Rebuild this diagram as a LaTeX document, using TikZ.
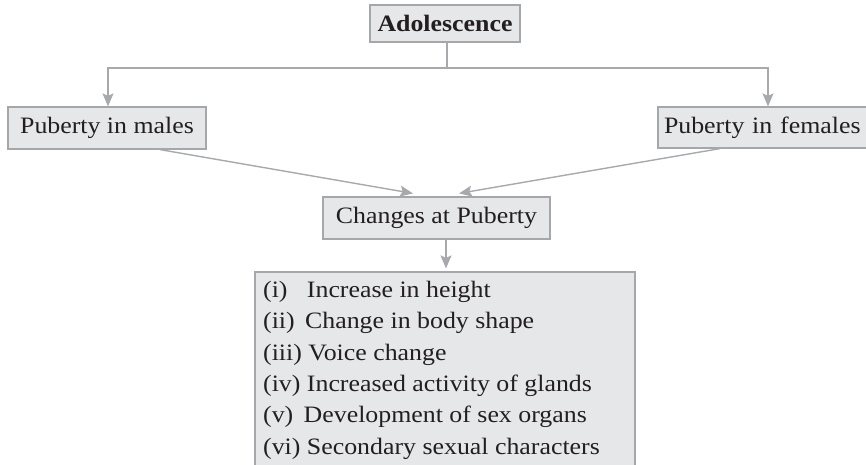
\documentclass[tikz,border=0pt]{standalone}
\usepackage{fontspec}
\setmainfont{Liberation Serif}[FakeStretch=1.1]
\usetikzlibrary{arrows.meta}
\definecolor{boxfill}{RGB}{230,231,232}
\definecolor{boxline}{RGB}{165,167,170}
\definecolor{arrcol}{RGB}{167,169,172}
\definecolor{txt}{RGB}{35,31,32}
\tikzset{
  box/.style={draw=boxline, fill=boxfill, line width=1.2pt, inner sep=0pt, text=txt,
    font=\fontsize{23.5}{28}\selectfont},
  arr/.style={draw=arrcol, line width=1.4pt, -{Stealth[length=13pt,width=11pt,inset=2.5pt]}},
  ln/.style={draw=arrcol, line width=1.4pt},
  item/.style={anchor=base west, inner sep=0pt, text=txt, font=\fontsize{23.5}{28}\selectfont}
}
\begin{document}
\begin{tikzpicture}[x=1pt,y=-1pt]
\useasboundingbox (0,0) rectangle (866,465);
\node[box, minimum width=150pt, minimum height=37pt] (ado) at (445,23.5) {\textbf{Adolescence}};
\node[box, minimum width=198pt, minimum height=42pt] (males) at (107,128) {Puberty in males};
\node[box, minimum width=217pt, minimum height=41pt, text width=205pt, align=left] (females) at (766.5,127.5) {Puberty in females};
\node[box, minimum width=227pt, minimum height=42pt] (changes) at (436.5,218) {Changes at Puberty};
\node[box, minimum width=380pt, minimum height=205pt] (list) at (445,374.5) {};
\coordinate (j) at (447,68);
\draw[ln] (ado.south -| j) -- (j);
\draw[arr] (j) -| ([xshift=1pt]males.north);
\draw[arr] (j) -| ([xshift=1.5pt]females.north);
\draw[arr] ([xshift=53pt]males.south) -- ([xshift=-23.5pt,yshift=3pt]changes.north);
\draw[arr] ([xshift=-46.5pt]females.south) -- ([xshift=22.5pt,yshift=3pt]changes.north);
\draw[arr] ([xshift=9.5pt]changes.south) -- ([xshift=1pt,yshift=3pt]list.north);
\node[item] (i1) at (263,297) {(i)\hspace{0.55em} Increase in height};
\node[item] (i2) at (263,328.5) {(ii)\, Change in body shape};
\node[item] (i3) at (263,360) {(iii) Voice change};
\node[item] (i4) at (263,391) {(iv) Increased activity of glands};
\node[item] (i5) at (263,422.5) {(v)\, Development of sex organs};
\node[item] (i6) at (263,454) {(vi) Secondary sexual characters};
\end{tikzpicture}
\end{document}
